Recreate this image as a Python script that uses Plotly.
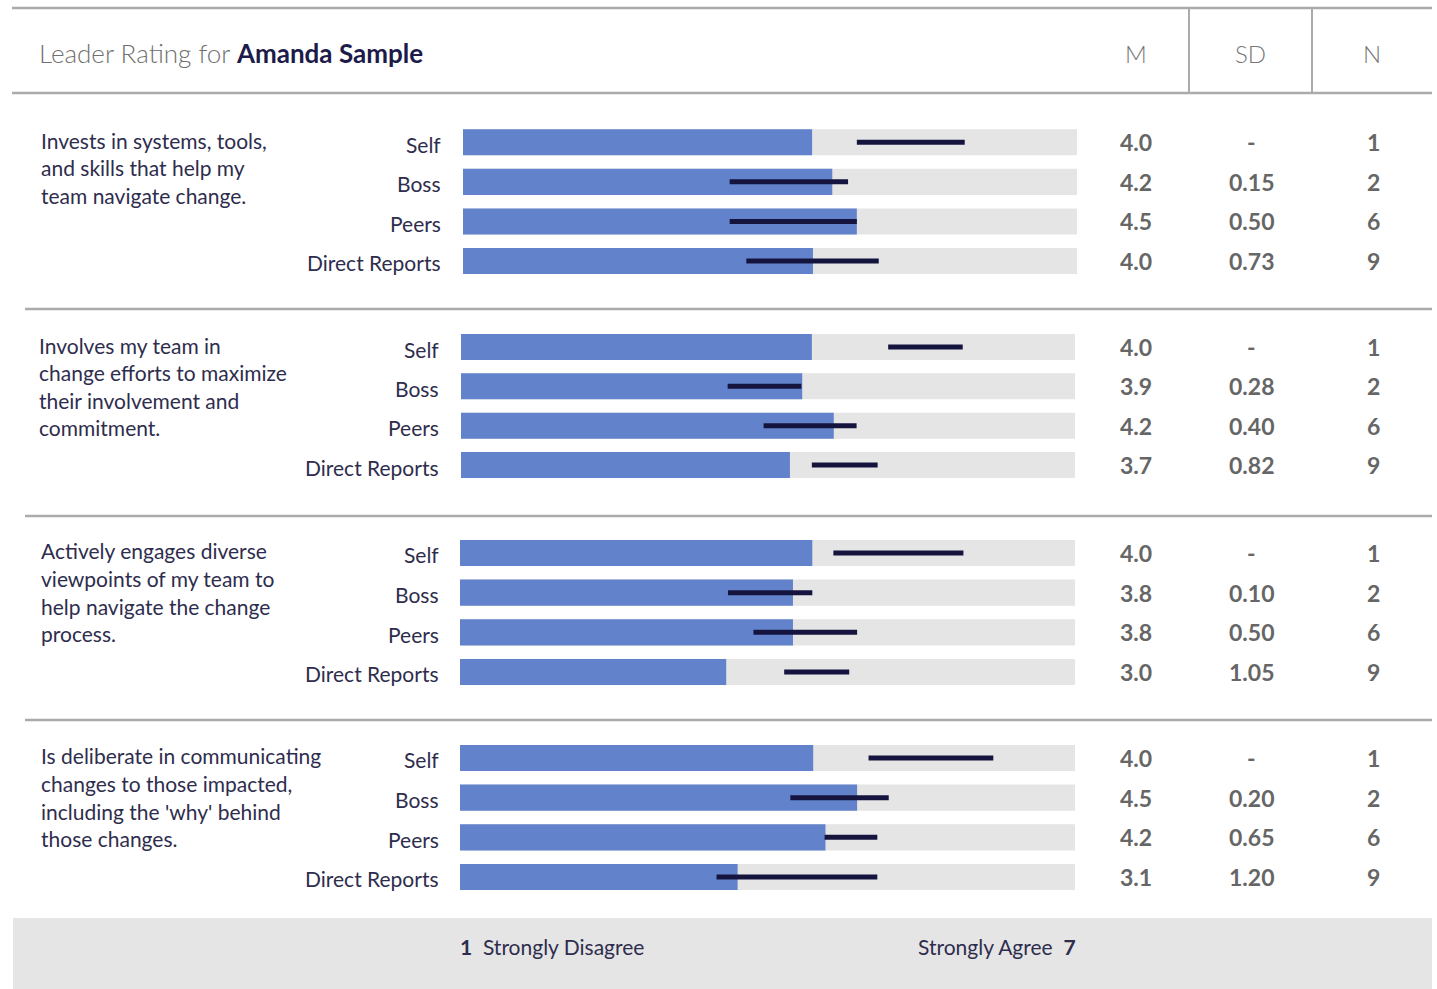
import plotly.graph_objects as go

W, H = 1437, 989

# ---------------- data ----------------
raters = ["Self", "Boss", "Peers", "Direct Reports"]
items = [
    ["Invests in systems, tools,", "and skills that help my", "team navigate change."],
    ["Involves my team in", "change efforts to maximize", "their involvement and", "commitment."],
    ["Actively engages diverse", "viewpoints of my team to", "help navigate the change", "process."],
    ["Is deliberate in communicating", "changes to those impacted,", "including the 'why' behind", "those changes."],
]
means_1 = [3.98, 4.21, 4.49, 3.99]
means_2 = [4.00, 3.89, 4.25, 3.75]
means_3 = [4.01, 3.79, 3.79, 3.03]
means_4 = [4.02, 4.52, 4.16, 3.16]
m_labels_1 = ["4.0", "4.2", "4.5", "4.0"]
m_labels_2 = ["4.0", "3.9", "4.2", "3.7"]
m_labels_3 = ["4.0", "3.8", "3.8", "3.0"]
m_labels_4 = ["4.0", "4.5", "4.2", "3.1"]
range_lo_1 = [4.49, 3.04, 3.04, 3.23]
range_hi_1 = [5.72, 4.39, 4.49, 4.74]
range_lo_2 = [4.87, 3.04, 3.45, 4.00]
range_hi_2 = [5.72, 3.88, 4.51, 4.75]
range_lo_3 = [4.25, 3.05, 3.34, 3.69]
range_hi_3 = [5.73, 4.01, 4.52, 4.43]
range_lo_4 = [4.65, 3.76, 4.15, 2.92]
range_hi_4 = [6.07, 4.88, 4.75, 4.75]
sd_1 = [None, 0.15, 0.50, 0.73]
sd_2 = [None, 0.28, 0.40, 0.82]
sd_3 = [None, 0.10, 0.50, 1.05]
sd_4 = [None, 0.20, 0.65, 1.20]
n_1 = [1, 2, 6, 9]
n_2 = [1, 2, 6, 9]
n_3 = [1, 2, 6, 9]
n_4 = [1, 2, 6, 9]
scale_max = 7
columns = ["M", "SD", "N"]
scale_labels = ["Strongly Disagree", "Strongly Agree"]
scale_ends = ["1", "7"]

means = [means_1, means_2, means_3, means_4]
m_labels = [m_labels_1, m_labels_2, m_labels_3, m_labels_4]
range_lo = [range_lo_1, range_lo_2, range_lo_3, range_lo_4]
range_hi = [range_hi_1, range_hi_2, range_hi_3, range_hi_4]
sds = [sd_1, sd_2, sd_3, sd_4]
ns = [n_1, n_2, n_3, n_4]

# ---------------- layout helpers ----------------
def px(x):
    return x / W

def py(y):
    return 1 - y / H

BLUE = "#6283CB"
GREY = "#E5E5E5"
DARK = "#15143F"
TEXT = "#2E2D4D"
NUM = "#666666"
RULE = "#ABABAB"
FONT = "Lato"

# pixel geometry of each group: (bar x start, bar x end, Self center, DR center, desc x, label right x)
geo = [
    (463, 1077, 142.3, 261, 39, 443),
    (461, 1075, 347, 465, 37, 441),
    (460, 1075, 553, 672, 39, 441),
    (460, 1075, 758, 877, 39, 441),
]
col_x = [1136, 1251, 1373]

fig = go.Figure()
annotations = []
layout_axes = {}

for g in range(4):
    x0, x1, c_top, c_bot, dx, lx = geo[g]
    sp = (c_bot - c_top) / 3
    top = c_top - sp / 2
    bot = c_bot + sp / 2
    sfx = "" if g == 0 else str(g + 1)
    xa, ya = "x" + sfx, "y" + sfx
    layout_axes["xaxis" + sfx] = dict(domain=[px(x0), px(x1)], range=[0, scale_max], anchor=ya,
                                      visible=False, fixedrange=True)
    layout_axes["yaxis" + sfx] = dict(domain=[py(bot), py(top)], type="category",
                                      categoryorder="array", categoryarray=raters,
                                      range=[3.5, -0.5], anchor=xa, visible=False, fixedrange=True)
    # background full-scale bars
    fig.add_trace(go.Bar(x=[scale_max] * 4, y=raters, orientation="h", width=0.66,
                         marker=dict(color=GREY, line=dict(width=0)), xaxis=xa, yaxis=ya,
                         hoverinfo="skip", showlegend=False))
    # mean bars
    fig.add_trace(go.Bar(x=means[g], y=raters, orientation="h", width=0.66,
                         marker=dict(color=BLUE, line=dict(width=0)), xaxis=xa, yaxis=ya,
                         showlegend=False))
    # range lines
    lx_, ly_ = [], []
    for r in range(4):
        lx_ += [range_lo[g][r], range_hi[g][r], None]
        ly_ += [raters[r], raters[r], None]
    fig.add_trace(go.Scatter(x=lx_, y=ly_, mode="lines", line=dict(color=DARK, width=5),
                             xaxis=xa, yaxis=ya, showlegend=False, hoverinfo="skip"))

    # rater labels
    for r in range(4):
        annotations.append(dict(text=raters[r], xref="paper", yref=ya, x=px(lx), y=raters[r],
                                xanchor="right", yanchor="middle", yshift=-2, showarrow=False,
                                font=dict(family=FONT, size=21, color=TEXT)))
        sd_txt = "-" if sds[g][r] is None else f"{sds[g][r]:.2f}"
        vals = [m_labels[g][r], sd_txt, str(ns[g][r])]
        for c in range(3):
            annotations.append(dict(text=vals[c], xref="paper", yref=ya, x=px(col_x[c]), y=raters[r],
                                    xanchor="center", yanchor="middle", showarrow=False,
                                    font=dict(family=FONT, size=23, color=NUM, weight="bold")))
    # item description lines
    for k, line in enumerate(items[g]):
        annotations.append(dict(text=line, xref="paper", yref=ya, x=px(dx), y=raters[0],
                                xanchor="left", yanchor="middle", yshift=2 - k * 27.6, showarrow=False,
                                font=dict(family=FONT, size=21, color=TEXT)))

# header
annotations.append(dict(text="Leader Rating for <b><span style='color:#1C1B4A'>Amanda Sample</span></b>",
                        xref="paper", yref="paper", x=px(37), y=py(53), xanchor="left", yanchor="middle",
                        showarrow=False, font=dict(family=FONT, size=26, color="#707070", weight=300)))
header_x = [1136, 1250, 1372]
for c in range(3):
    annotations.append(dict(text=columns[c], xref="paper", yref="paper", x=px(header_x[c]), y=py(53),
                            xanchor="center", yanchor="middle", showarrow=False,
                            font=dict(family=FONT, size=24, color="#777777", weight=300)))

# footer
annotations.append(dict(text=f"<b>{scale_ends[0]}</b>  {scale_labels[0]}", xref="paper", yref="paper",
                        x=px(458), y=py(946), xanchor="left", yanchor="middle", showarrow=False,
                        font=dict(family=FONT, size=21, color=TEXT)))
annotations.append(dict(text=f"{scale_labels[1]}  <b>{scale_ends[1]}</b>", xref="paper", yref="paper",
                        x=px(1078), y=py(946), xanchor="right", yanchor="middle", showarrow=False,
                        font=dict(family=FONT, size=21, color=TEXT)))

shapes = []
# footer band
shapes.append(dict(type="rect", xref="paper", yref="paper", x0=px(13), x1=px(1432), y0=py(989), y1=py(918),
                   fillcolor=GREY, line=dict(width=0), layer="below"))
# header rules
for yy in [8, 93]:
    shapes.append(dict(type="line", xref="paper", yref="paper", x0=px(12), x1=px(1432), y0=py(yy), y1=py(yy),
                       line=dict(color=RULE, width=2.5)))
for xx in [1189, 1312]:
    shapes.append(dict(type="line", xref="paper", yref="paper", x0=px(xx), x1=px(xx), y0=py(8), y1=py(93),
                       line=dict(color=RULE, width=2)))
# group separators
for yy in [309, 516, 720]:
    shapes.append(dict(type="line", xref="paper", yref="paper", x0=px(25), x1=px(1432), y0=py(yy), y1=py(yy),
                       line=dict(color=RULE, width=2.5)))

fig.update_layout(width=W, height=H, margin=dict(l=0, r=0, t=0, b=0), autosize=False,
                  paper_bgcolor="white", plot_bgcolor="white", barmode="overlay",
                  annotations=annotations, shapes=shapes, showlegend=False,
                  font=dict(family=FONT), **layout_axes)

fig.write_html("out.html", config={"displayModeBar": False})
